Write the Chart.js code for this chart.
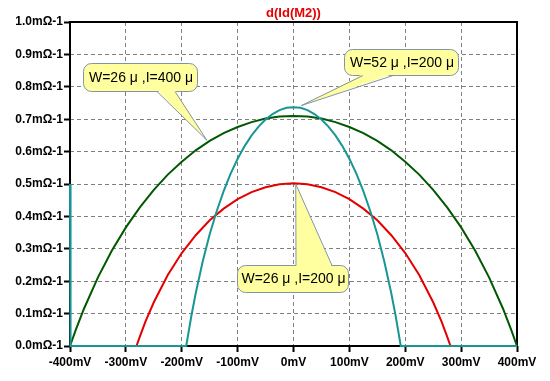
<!DOCTYPE html>
<html>
<head>
<meta charset="utf-8">
<script src="https://cdn.jsdelivr.net/npm/chart.js@4/dist/chart.umd.min.js"></script>
<style>
html,body{margin:0;padding:0;background:#fff;overflow:hidden;}
#c{display:block;}
</style>
</head>
<body>
<canvas id="c" width="550" height="381" style="width:550px;height:381px;"></canvas>
<script>
// ---- data ----
const chartTitle = "d(Id(M2))";
const xTickValues = [-400,-300,-200,-100,0,100,200,300,400];
const xTickLabels = ["-400mV","-300mV","-200mV","-100mV","0mV","100mV","200mV","300mV","400mV"];
const yTickValues = [0,0.1,0.2,0.3,0.4,0.5,0.6,0.7,0.8,0.9,1.0];
const yTickLabels = ["0.0mΩ-1","0.1mΩ-1","0.2mΩ-1","0.3mΩ-1","0.4mΩ-1","0.5mΩ-1","0.6mΩ-1","0.7mΩ-1","0.8mΩ-1","0.9mΩ-1","1.0mΩ-1"];

// W=26u, I=400u (dark green)
const greenX = [-400,-390,-375,-350,-325,-300,-275,-250,-225,-200,-175,-150,-125,-100,-75,-50,-25,0,25,50,75,100,125,150,175,200,225,250,275,300,325,350,375,390,400];
const greenY = [0,0.048,0.115,0.212,0.295,0.366,0.428,0.482,0.529,0.569,0.604,0.633,0.657,0.676,0.691,0.702,0.708,0.710,0.708,0.702,0.691,0.676,0.657,0.633,0.604,0.569,0.529,0.482,0.428,0.366,0.295,0.212,0.115,0.048,0];

// W=26u, I=200u (red)
const redX = [-400,-281,-275,-265,-250,-225,-200,-175,-150,-125,-100,-75,-50,-25,0,25,50,75,100,125,150,175,200,225,250,265,275,281,400];
const redY = [0,0,0.029,0.075,0.135,0.219,0.287,0.342,0.388,0.424,0.453,0.475,0.490,0.499,0.502,0.499,0.490,0.475,0.453,0.424,0.388,0.342,0.287,0.219,0.135,0.075,0.029,0,0];

// W=52u, I=200u (teal)
const tealX = [-400,-399,-192,-183,-175,-162.5,-150,-137.5,-125,-112.5,-100,-87.5,-75,-62.5,-50,-37.5,-25,-12.5,0,12.5,25,37.5,50,62.5,75,87.5,100,112.5,125,137.5,150,162.5,175,183,192,400];
const tealY = [0.5,0,0,0.091,0.163,0.261,0.345,0.416,0.478,0.532,0.578,0.617,0.650,0.677,0.699,0.716,0.728,0.735,0.737,0.735,0.728,0.716,0.699,0.677,0.650,0.617,0.578,0.532,0.478,0.416,0.345,0.261,0.163,0.091,0,0];

const balloonTexts = ["W=26 μ ,I=400 μ", "W=52 μ ,I=200 μ", "W=26 μ ,I=200 μ"];
const balloonTipX = [-155, 14, 4];
const balloonTipY = [0.635, 0.742, 0.50];

// ---- helpers ----
function pts(xs, ys){ return xs.map((x,i)=>({x:x, y:ys[i]})); }

const balloonLayout = [
  {x1:83, y1:63, x2:197, y2:91, b1:157, b2:175, side:'bottom'},
  {x1:344, y1:49, x2:458, y2:75, b1:363, b2:393, side:'bottom'},
  {x1:237, y1:265, x2:348, y2:292, b1:296, b2:332, side:'top'}
];

function rr(ctx, x1, y1, x2, y2, r){
  ctx.beginPath();
  ctx.moveTo(x1+r, y1);
  ctx.lineTo(x2-r, y1);
  ctx.arcTo(x2, y1, x2, y1+r, r);
  ctx.lineTo(x2, y2-r);
  ctx.arcTo(x2, y2, x2-r, y2, r);
  ctx.lineTo(x1+r, y2);
  ctx.arcTo(x1, y2, x1, y2-r, r);
  ctx.lineTo(x1, y1+r);
  ctx.arcTo(x1, y1, x1+r, y1, r);
  ctx.closePath();
}

const boxPlugin = {
  id:'box',
  beforeDatasetsDraw(chart){
    const {ctx, chartArea:a} = chart;
    ctx.save();
    ctx.strokeStyle = '#000';
    ctx.lineWidth = 2;
    ctx.strokeRect(a.left, a.top, a.right-a.left, a.bottom-a.top);
    ctx.restore();
  },
  afterDraw(chart){
    const {ctx, chartArea:a, scales} = chart;
    ctx.save();
    ctx.fillStyle = 'rgb(230,0,0)';
    ctx.font = 'bold 13px "Liberation Sans", Arial, sans-serif';
    ctx.textAlign = 'center';
    ctx.textBaseline = 'middle';
    ctx.fillText(chartTitle, (a.left+a.right)/2, 13);
    ctx.restore();

    balloonLayout.forEach((b, i) => {
      const tx = scales.x.getPixelForValue(balloonTipX[i]);
      const ty = scales.y.getPixelForValue(balloonTipY[i]);
      ctx.save();
      ctx.fillStyle = '#ffffa0';
      ctx.strokeStyle = '#8293a8';
      ctx.lineWidth = 1;
      rr(ctx, b.x1+0.5, b.y1+0.5, b.x2+0.5, b.y2+0.5, 8);
      ctx.fill();
      ctx.stroke();
      const by = b.side === 'bottom' ? b.y2+0.5 : b.y1+0.5;
      const ins = b.side === 'bottom' ? -1.5 : 1.5;
      ctx.beginPath();
      ctx.moveTo(b.b1, by+ins);
      ctx.lineTo(tx, ty);
      ctx.lineTo(b.b2, by+ins);
      ctx.closePath();
      ctx.fill();
      ctx.beginPath();
      ctx.moveTo(b.b1, by);
      ctx.lineTo(tx, ty);
      ctx.lineTo(b.b2, by);
      ctx.stroke();
      ctx.fillStyle = '#000';
      ctx.font = '14px "Liberation Sans", Arial, sans-serif';
      ctx.textAlign = 'center';
      ctx.textBaseline = 'middle';
      ctx.fillText(balloonTexts[i], (b.x1+b.x2)/2+1, (b.y1+b.y2)/2+1);
      ctx.restore();
    });
  }
};

const tickFont = {family:'"Liberation Sans", Arial, sans-serif', size:12, weight:'bold'};

new Chart(document.getElementById('c'), {
  type:'line',
  data:{
    datasets:[
      {data:pts(tealX, tealY), borderColor:'rgb(24,150,150)', borderWidth:2, pointRadius:0, clip:false},
      {data:pts(redX, redY), borderColor:'rgb(228,0,0)', borderWidth:2, pointRadius:0, clip:false},
      {data:pts(greenX, greenY), borderColor:'rgb(0,88,0)', borderWidth:2, pointRadius:0, clip:false}
    ]
  },
  options:{
    responsive:false,
    animation:false,
    devicePixelRatio:1,
    layout:{padding:{top:22, right:33, left:0, bottom:0}},
    plugins:{legend:{display:false}, tooltip:{enabled:false}, title:{display:false}},
    scales:{
      x:{
        type:'linear', min:-400, max:400,
        afterBuildTicks(s){ s.ticks = xTickValues.map(v=>({value:v})); },
        afterFit(s){ s.height = 35; },
        ticks:{
          color:'#000', font:tickFont, padding:3, maxRotation:0, autoSkip:false,
          callback(v){ const i = xTickValues.indexOf(v); return i>=0 ? xTickLabels[i] : ''; }
        },
        grid:{color:'#808080', lineWidth:1, tickColor:'#000', tickWidth:2, tickLength:6, tickBorderDash:[10,0]},
        border:{display:false, dash:[4,3]}
      },
      y:{
        type:'linear', min:0, max:1.0,
        afterBuildTicks(s){ s.ticks = yTickValues.map(v=>({value:v})); },
        afterFit(s){ s.width = 70; },
        ticks:{
          color:'#000', font:tickFont, padding:1, autoSkip:false,
          callback(v){ let i = yTickValues.findIndex(t=>Math.abs(t-v)<1e-9); return i>=0 ? yTickLabels[i] : ''; }
        },
        grid:{color:'#808080', lineWidth:1, tickColor:'#000', tickWidth:2, tickLength:6, tickBorderDash:[10,0]},
        border:{display:false, dash:[4,3]}
      }
    }
  },
  plugins:[boxPlugin]
});
</script>
</body>
</html>
